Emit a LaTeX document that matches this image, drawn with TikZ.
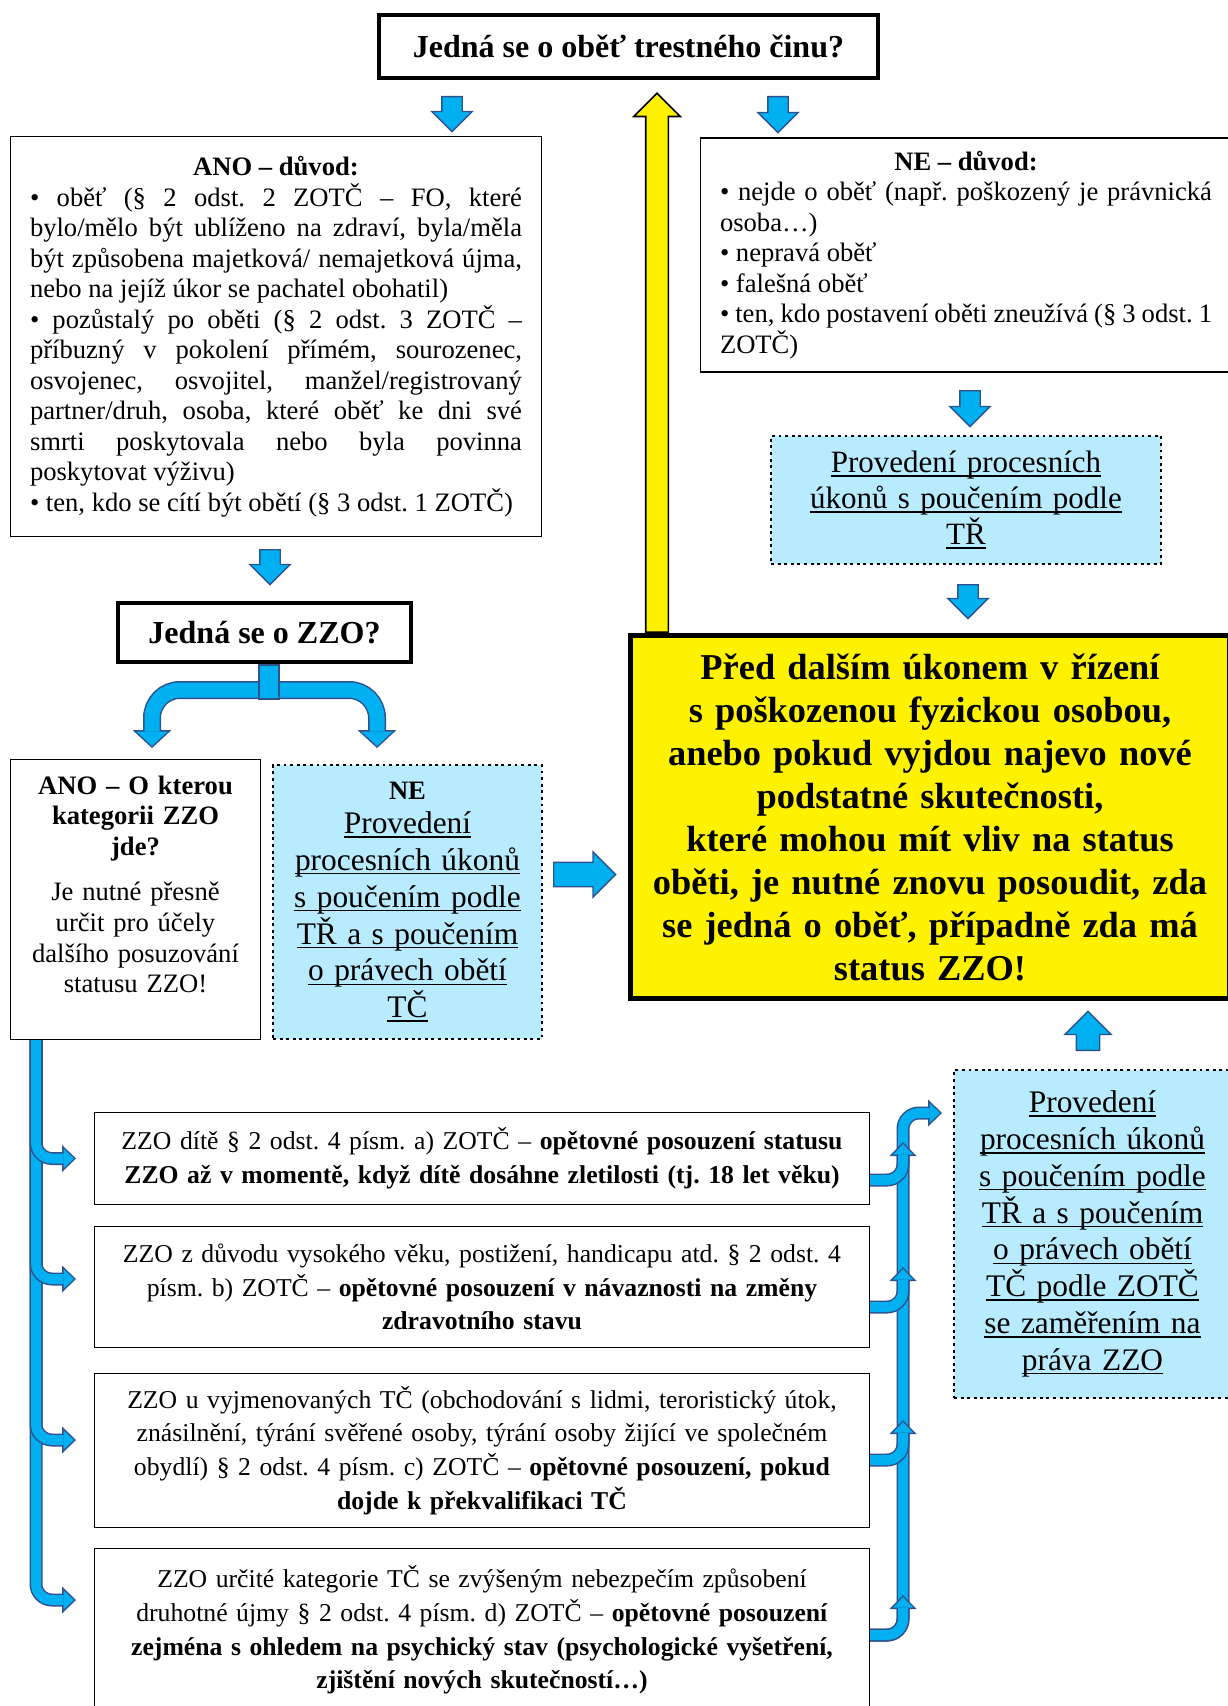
\documentclass[tikz,border=0pt]{standalone}
\usepackage{fontspec}
\setmainfont{Liberation Serif}
\usepackage{tikz}
\usetikzlibrary{arrows.meta}
\usetikzlibrary{shapes.arrows}
\usetikzlibrary{positioning}
\frenchspacing
\definecolor{arrowfill}{HTML}{00B0F0}
\definecolor{arrowline}{HTML}{2F528F}
\definecolor{dotfill}{HTML}{B9EBFE}
\newsavebox\ulbox
\newcommand{\uln}[1]{\leavevmode\sbox\ulbox{#1}\rlap{\rule[-2pt]{\wd\ulbox}{0.65pt}}\usebox\ulbox}
\tikzset{
    plainbox/.style = {rectangle, draw=black, line width=0.6pt, inner sep=0pt},
    questbox/.style = {rectangle, draw=black, line width=2.2pt, inner sep=0pt, font=\fontsize{16}{19}\selectfont\bfseries},
    dotbox/.style = {rectangle, draw=black, fill=dotfill, line width=1.45pt, dash pattern=on 1.45pt off 1.85pt, inner sep=0pt, align=center, font=\fontsize{15.7}{18.4}\selectfont},
    yellowbox/.style = {rectangle, draw=black, fill=yellow, line width=2.5pt, inner sep=0pt, align=center, font=\fontsize{18.2}{21.5}\selectfont\bfseries},
    blockarrow/.style = {single arrow, draw=arrowline, fill=arrowfill, line width=0.7pt, inner xsep=0pt, inner ysep=4.75pt, minimum width=19.5pt, minimum height=17.5pt, single arrow head extend=5pt},
    backarrow/.style = {single arrow, draw=black, fill=yellow, line width=0.8pt, inner xsep=0pt, inner ysep=5.25pt, minimum width=22.5pt, single arrow head extend=6pt},
    stemblock/.style = {rectangle, draw=arrowline, fill=arrowfill, line width=0.7pt, inner sep=0pt},
    busline/.style = {draw=arrowline, line width=6.5pt, rounded corners=8pt,
        -{Triangle[width=13.5pt,length=7pt,line width=0pt]},
        postaction={draw=arrowfill, line width=5pt, -{Triangle[width=10pt,length=5.2pt,line width=0pt]}, shorten >=1.05pt}},
    splitline/.style = {draw=arrowline, line width=9pt, rounded corners=14pt,
        {Triangle[width=19.5pt,length=9pt,line width=0pt]}-{Triangle[width=19.5pt,length=9pt,line width=0pt]},
        postaction={draw=arrowfill, line width=7.5pt, {Triangle[width=15.6pt,length=7.2pt,line width=0pt]}-{Triangle[width=15.6pt,length=7.2pt,line width=0pt]}, shorten >=1pt, shorten <=1pt}},
}
\begin{document}
\begin{tikzpicture}[x=0.5pt, y=-0.5pt]
\path[use as bounding box, fill=white] (0,0) rectangle (1227,1706);
% yellow arrow runs under the big box
\node[backarrow, rotate=90, anchor=tail, minimum height=269.5pt] (back) at (657,633) {};
%
\node[questbox, minimum width=249.3pt, minimum height=31.3pt] (victim) at (628.5,46.5) {Jedná se o oběť trestného činu?};
\node[blockarrow, rotate=-90, anchor=tail] (arryes) at (452,96) {};
\node[blockarrow, rotate=-90, anchor=tail, minimum height=18pt] (arrno) at (778,96) {};
%
\node[plainbox, minimum width=265.4pt, minimum height=199.9pt, text width=246pt, align=justify,
      font=\fontsize{13.3}{15.25}\selectfont] (yesreason) at (276,336.5) {%
{\centering\textbf{ANO – důvod:}\par}
• oběť (§ 2 odst. 2 ZOTČ – FO, které\linebreak
bylo/mělo být ublíženo na zdraví, byla/měla\linebreak
být způsobena majetková/ nemajetková újma,\linebreak
nebo na jejíž úkor se pachatel obohatil)\par
• pozůstalý po oběti (§ 2 odst. 3 ZOTČ –\linebreak
příbuzný v pokolení přímém, sourozenec,\linebreak
osvojenec, osvojitel, manžel/registrovaný\linebreak
partner/druh, osoba, které oběť ke dni své\linebreak
smrti poskytovala nebo byla povinna\linebreak
poskytovat výživu)\par
• ten, kdo se cítí být obětí (§ 3 odst. 1 ZOTČ)};
\node[plainbox, minimum width=265.4pt, minimum height=116.9pt, text width=246pt, align=justify,
      font=\fontsize{13.3}{15.25}\selectfont] (noreason) at (966,255) {%
{\centering\textbf{NE – důvod:}\par}
• nejde o oběť (např. poškozený je právnická\linebreak
osoba…)\par
• nepravá oběť\par
• falešná oběť\par
• ten, kdo postavení oběti zneužívá (§ 3 odst. 1\linebreak
ZOTČ)};
%
\node[blockarrow, rotate=-90, anchor=tail, minimum height=18pt] (arrnr) at (970,390) {};
\node[dotbox, minimum width=195pt, minimum height=64pt, text width=194pt,
      font=\fontsize{15.5}{18}\selectfont] (trbox) at (966,500) {%
\uln{Provedení procesních}\\ \uln{úkonů s poučením podle}\\ \uln{TŘ}};
\node[blockarrow, rotate=-90, anchor=tail, minimum height=17pt] (arrtr) at (968,584) {};
%
\node[blockarrow, rotate=-90, anchor=tail] (arryr) at (270,549) {};
\node[questbox, minimum width=146.3pt, minimum height=29.3pt] (zzo) at (264.5,632.5) {Jedná se o ZZO?};
% split arrow under the ZZO question
\coordinate (splitl) at (152,748);
\coordinate (splitr) at (377,748);
\draw[splitline] (splitl) -- ++(0,-58) -| (splitr);
\node[stemblock, minimum width=10pt, minimum height=17pt] (stem) at (269,682) {};
%
\node[plainbox, minimum width=124.9pt, minimum height=139.9pt, text width=120pt, align=center,
      font=\fontsize{13.3}{15.3}\selectfont] (whichzzo) at (135.5,899.5) {%
\textbf{ANO – O kterou}\\ \textbf{kategorii ZZO}\\ \textbf{jde?}\\[7.5pt]
Je nutné přesně\\ určit pro účely\\ dalšího posuzování\\ statusu ZZO!\\ \mbox{}};
\node[dotbox, minimum width=134.5pt, minimum height=137pt, text width=134pt] (nozzo) at (407.5,902) {%
{\fontsize{13.3}{15}\selectfont\textbf{NE}}\\[-1.5pt]
\uln{Provedení}\\ \uln{procesních úkonů}\\ \uln{s poučením podle}\\
\uln{TŘ a s poučením}\\ \uln{o právech obětí}\\ \uln{TČ}};
\node[blockarrow, anchor=tail, inner ysep=5.75pt, minimum width=22pt, minimum height=31pt, single arrow head extend=5.25pt] (arrst) at (553,874.5) {};
%
\node[yellowbox, minimum width=299.5pt, minimum height=181.5pt, text width=299pt] (status) at (930,817) {%
Před dalším úkonem v řízení\\ s poškozenou fyzickou osobou,\\ anebo pokud vyjdou najevo nové\\
podstatné skutečnosti,\\ které mohou mít vliv na status\\ oběti, je nutné znovu posoudit, zda\\
se jedná o oběť, případně zda má\\ status ZZO!};
\node[blockarrow, rotate=90, anchor=tail, inner ysep=5.5pt, minimum width=22.5pt, minimum height=19.5pt, single arrow head extend=5.75pt] (arrup) at (1088,1051) {};
\node[dotbox, minimum width=138.5pt, minimum height=164pt, text width=138pt] (rights) at (1092.5,1234) {%
\uln{Provedení}\\ \uln{procesních úkonů}\\ \uln{s poučením podle}\\ \uln{TŘ a s poučením}\\
\uln{o právech obětí}\\ \uln{TČ podle ZOTČ}\\ \uln{se zaměřením na}\\ \uln{práva ZZO}};
%
\node[plainbox, minimum width=387.4pt, minimum height=45.9pt, text width=387pt, align=center,
      font=\fontsize{12.85}{16.9}\selectfont] (kida) at (482,1158.5) {%
ZZO dítě § 2 odst. 4 písm. a) ZOTČ – \textbf{opětovné posouzení statusu}\\
\textbf{ZZO až v momentě, když dítě dosáhne zletilosti (tj. 18 let věku)}};
\node[plainbox, minimum width=387.4pt, minimum height=60.4pt, text width=387pt, align=center,
      font=\fontsize{12.85}{16.9}\selectfont] (ageb) at (482,1287) {%
ZZO z důvodu vysokého věku, postižení, handicapu atd. § 2 odst. 4\\
písm. b) ZOTČ – \textbf{opětovné posouzení v návaznosti na změny}\\
\textbf{zdravotního stavu}};
\node[plainbox, minimum width=387.4pt, minimum height=76.9pt, text width=387pt, align=center,
      font=\fontsize{12.85}{16.9}\selectfont] (crimec) at (482,1450.5) {%
ZZO u vyjmenovaných TČ (obchodování s lidmi, teroristický útok,\\
znásilnění, týrání svěřené osoby, týrání osoby žijící ve společném\\
obydlí) § 2 odst. 4 písm. c) ZOTČ – \textbf{opětovné posouzení, pokud}\\
\textbf{dojde k překvalifikaci TČ}};
\node[plainbox, minimum width=387.4pt, minimum height=81.4pt, text width=387pt, align=center,
      font=\fontsize{12.85}{16.9}\selectfont] (harmd) at (482,1630) {%
ZZO určité kategorie TČ se zvýšeným nebezpečím způsobení\\
druhotné újmy § 2 odst. 4 písm. d) ZOTČ – \textbf{opětovné posouzení}\\
\textbf{zejména s ohledem na psychický stav (psychologické vyšetření,}\\
\textbf{zjištění nových skutečností…)}};
%
% left bus
\coordinate (lbus) at (36,1040);
\draw[busline] (lbus) |- ([shift={(-9pt,15pt)}]harmd.west);
\draw[busline] (lbus) |- ([shift={(-9pt,5.25pt)}]crimec.west);
\draw[busline] (lbus) |- ([shift={(-9pt,4pt)}]ageb.west);
\draw[busline] (lbus) |- ([xshift=-9pt]kida.west);
% right bus
\coordinate (rtip) at (942,1113);
\draw[busline] ([yshift=-2.5pt]harmd.east) -| ([xshift=-19.5pt]rtip) -- (rtip);
\draw[busline] ([yshift=-10.75pt]kida.east) -| ++(16.5pt,19pt);
\draw[busline] ([yshift=-10pt]ageb.east) -| ++(16.5pt,20pt);
\draw[busline] ([yshift=-4.75pt]crimec.east) -| ++(16.5pt,20pt);
\draw[busline] ([yshift=-2.5pt]harmd.east) -| ++(16.5pt,20pt);
\end{tikzpicture}
\end{document}
